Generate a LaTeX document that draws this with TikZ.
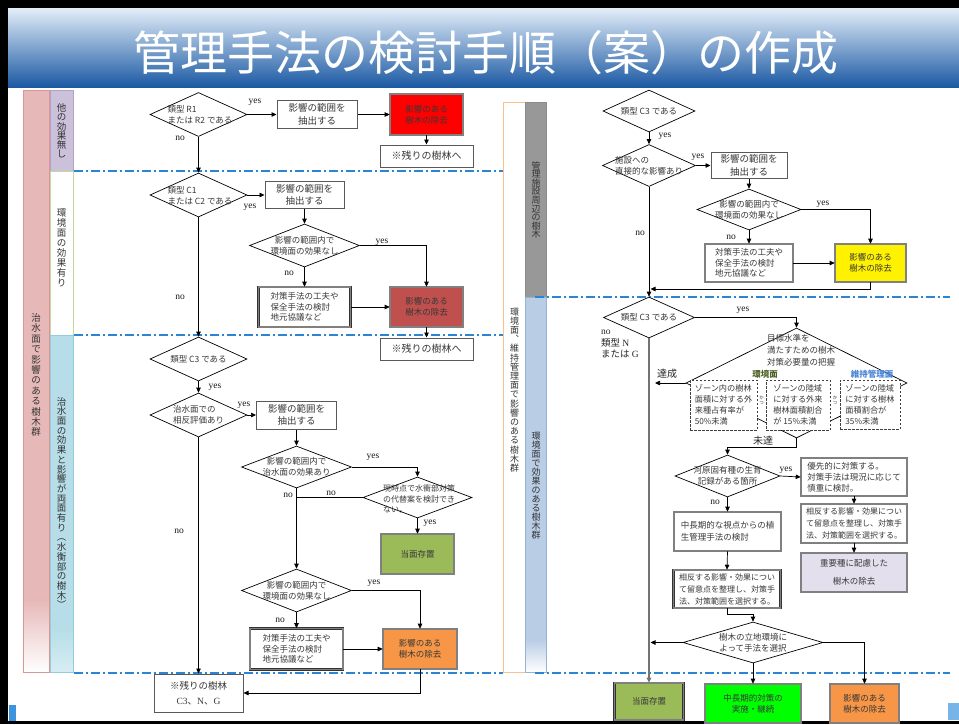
\documentclass[tikz,border=0pt]{standalone}
\usepackage{fontspec}
\setmainfont{Noto Sans CJK JP}
\newfontfamily\lat{Liberation Serif}
\usetikzlibrary{shapes.geometric,arrows.meta}
\definecolor{olivefill}{HTML}{9BBB59}
\definecolor{orangefill}{HTML}{F79646}
\definecolor{darkredfill}{HTML}{C0504D}
\definecolor{lavfill}{HTML}{E4DFEC}
\definecolor{pinkcol}{HTML}{E6B9B8}
\definecolor{pinkedge}{HTML}{D99694}
\definecolor{purplecol}{HTML}{CCC1DA}
\definecolor{purpleedge}{HTML}{B3A2C7}
\definecolor{bluecol}{HTML}{B7DEE8}
\definecolor{blueedge}{HTML}{93CDDD}
\definecolor{greenedge}{HTML}{C3D69B}
\definecolor{graycol}{HTML}{989898}
\definecolor{rbluecol}{HTML}{B9CDE5}
\definecolor{rblueedge}{HTML}{95B3D7}
\definecolor{orangeedge}{HTML}{FAC090}
\definecolor{zoneline}{HTML}{2A86D4}
\definecolor{titletop}{HTML}{E3EEF9}
\definecolor{titlemid}{HTML}{9DB9DA}
\definecolor{titlebot}{HTML}{1B59A3}
\definecolor{envgreen}{HTML}{4F6228}
\definecolor{mgmtblue}{HTML}{4A86D8}
\definecolor{logoblue}{HTML}{3D93DE}
\begin{document}
\begin{tikzpicture}[x=1pt,y=-1pt,
  every node/.style={text=black!78},
  dia/.style={diamond, draw=black, line width=0.7pt, fill=white, inner sep=0pt},
  dtx/.style={align=center, inner sep=0pt, font=\fontsize{8.5}{11}\selectfont},
  box/.style={rectangle, draw=black!65, line width=1pt, fill=white, inner sep=1pt, align=center, font=\fontsize{9.5}{12.5}\selectfont},
  dbox/.style={rectangle, draw=black!80, line width=0.6pt, double=black!50, double distance=1.5pt, inner sep=2pt, align=center, font=\fontsize{8.5}{11}\selectfont},
  dashbox/.style={rectangle, draw=black!75, line width=0.9pt, dash pattern=on 2.5pt off 1.5pt, fill=white, inner sep=2pt, align=left, font=\fontsize{8.2}{11}\selectfont},
  arr/.style={-{Triangle[length=5pt,width=4.5pt]}, line width=0.7pt, draw=black},
  ln/.style={line width=0.7pt, draw=black},
  lab/.style={text=black!90, inner sep=0pt, font=\lat\fontsize{9.5}{10}\selectfont},
  jlab/.style={text=black!85, inner sep=0pt, font=\fontsize{10}{11}\selectfont},
  zone/.style={draw=zoneline, line width=1.1pt, dash pattern=on 9pt off 3pt on 2pt off 3pt},
  vtl/.style={align=center, inner sep=0pt, text=black!80, font=\fontsize{9.5}{10}\selectfont},
  vtr/.style={align=center, inner sep=0pt, text=black!80, font=\fontsize{9}{9.2}\selectfont}
]
\useasboundingbox (0,0) rectangle (959,724);
% frame and title
\fill[white] (0,0) rectangle (959,724);
\shade[top color=titletop, middle color=titlemid, bottom color=titlebot] (8,8) rectangle (959,87);
\fill[black] (0,0) rectangle (959,8);
\fill[black] (0,0) rectangle (8,724);
\fill[black] (0,721) rectangle (959,724);
\fill[logoblue] (9,705) rectangle (16,721);
\fill[logoblue!70] (948,703) rectangle (959,720);
\node[text=white, inner sep=0pt, font=\fontsize{47}{47}\selectfont] (title) at (486,53) {管理手法の検討手順（案）の作成};

% zone lines
\draw[zone] (74,171) -- (503,171);
\draw[zone] (74,335) -- (503,335);
\draw[zone] (74,673) -- (503,673);

% left columns
\fill[pinkcol] (23,90) rectangle (49,600);
\shade[top color=pinkcol, bottom color=white] (23,600) rectangle (49,672);
\draw[pinkedge, line width=0.8pt] (23,90) rectangle (49,672);
\fill[purplecol] (50,90) rectangle (73,171);
\draw[purpleedge, line width=0.8pt] (50,90) rectangle (73,171);
\draw[greenedge, line width=0.8pt] (50,171) rectangle (73,335);
\fill[bluecol] (50,335) rectangle (73,630);
\shade[top color=bluecol, bottom color=bluecol!55] (50,630) rectangle (73,672);
\draw[blueedge, line width=0.8pt] (50,335) rectangle (73,672);
\node[vtl, font=\fontsize{9.5}{10.4}\selectfont] (cpink) at (36,375) {治\\水\\面\\で\\影\\響\\の\\あ\\る\\樹\\木\\群};
\node[vtl, font=\fontsize{9.5}{9.3}\selectfont] (cpurple) at (61.5,131) {他\\の\\効\\果\\無\\し};
\node[vtl, font=\fontsize{9.5}{10}\selectfont] (cwhite) at (61.5,248) {環\\境\\面\\の\\効\\果\\有\\り};
\node[vtl, font=\fontsize{9.5}{9.7}\selectfont] (cblue) at (61.5,503) {治\\水\\面\\の\\効\\果\\と\\影\\響\\が\\両\\面\\有\\り\\︵\\水\\衡\\部\\の\\樹\\木\\︶};

% right columns
\fill[white] (503,102) rectangle (525,672);
\draw[orangeedge, line width=1pt] (503,102) rectangle (525,672);
\fill[graycol] (525,102) rectangle (546,297);
\draw[black!45, line width=0.6pt] (525,102) rectangle (546,297);
\fill[rbluecol] (525,297) rectangle (546,640);
\shade[top color=rbluecol, bottom color=white] (525,640) rectangle (546,672);
\draw[rblueedge, line width=0.6pt] (525,297) rectangle (546,672);
\node[vtr] (corange) at (514.5,390) {環\\境\\面\\︑\\維\\持\\管\\理\\面\\で\\影\\響\\の\\あ\\る\\樹\\木\\群};
\node[vtr, font=\fontsize{9}{8.6}\selectfont] (cgray) at (536,200) {管\\理\\施\\設\\周\\辺\\の\\樹\\木};
\node[vtr, font=\fontsize{9}{9}\selectfont] (crblue) at (536,486) {環\\境\\面\\で\\効\\果\\の\\あ\\る\\樹\\木\\群};
\draw[zone] (535,297) -- (950,297);
\draw[zone] (535,673) -- (950,673);

% ===== left flowchart =====
\node[dia, minimum width=97pt, minimum height=44pt] (d1) at (198.5,114.5) {};
\node[dtx, align=left] (d1t) at (200,115) {類型 R1\\または R2 である};
\node[box, minimum width=80pt, minimum height=28pt] (b1) at (317,114.5) {影響の範囲を\\抽出する};
\node[dbox, fill=red, minimum width=73pt, minimum height=41pt] (r1) at (426.5,114.5) {影響のある\\樹木の除去};
\node[box, minimum width=93pt, minimum height=22pt, font=\fontsize{10}{12}\selectfont] (k1) at (426.5,156) {※残りの樹林へ};

\node[dia, minimum width=97pt, minimum height=44pt] (d2) at (198.5,195) {};
\node[dtx, align=left] (d2t) at (200,195.5) {類型 C1\\または C2 である};
\node[box, minimum width=79pt, minimum height=27pt] (b2) at (304.5,195) {影響の範囲を\\抽出する};
\node[dia, minimum width=110pt, minimum height=43pt] (d3) at (304.5,245.5) {};
\node[dtx] (d3t) at (d3) {影響の範囲内で\\環境面の効果なし};
\node[dbox, fill=white, align=left, minimum width=92pt, minimum height=40pt, font=\fontsize{8.5}{10.5}\selectfont] (b3) at (304.5,307) {対策手法の工夫や\\保全手法の検討\\地元協議など};
\node[dbox, fill=darkredfill, minimum width=73pt, minimum height=40pt] (r2) at (426.5,307) {影響のある\\樹木の除去};
\node[box, minimum width=93pt, minimum height=22pt, font=\fontsize{10}{12}\selectfont] (k2) at (426.5,349) {※残りの樹林へ};

\node[dia, minimum width=97pt, minimum height=44pt] (d4) at (198.5,359) {};
\node[dtx] (d4t) at (d4) {類型 C3 である};
\node[dia, minimum width=97pt, minimum height=44pt] (d5) at (198.5,415) {};
\node[dtx, align=left] (d5t) at (d5) {治水面での\\相反評価あり};
\node[box, minimum width=80pt, minimum height=28pt] (b4) at (296.5,415) {影響の範囲を\\抽出する};
\node[dia, minimum width=110pt, minimum height=42pt] (d6) at (296.5,467) {};
\node[dtx] (d6t) at (d6) {影響の範囲内で\\治水面の効果あり};
\node[dia, minimum width=109pt, minimum height=41pt] (d7) at (417.5,497.5) {};
\node[dtx, align=left, font=\fontsize{8}{10.5}\selectfont] (d7t) at (419,499) {現時点で水衝部対策\\の代替案を検討でき\\ない。};
\node[dbox, fill=olivefill, minimum width=73pt, minimum height=40pt] (g0) at (417.5,554) {当面存置};
\node[dia, minimum width=110pt, minimum height=43pt] (d8) at (296.5,590.5) {};
\node[dtx] (d8t) at (d8) {影響の範囲内で\\環境面の効果なし};
\node[dbox, fill=white, align=left, minimum width=93pt, minimum height=41pt, font=\fontsize{8.5}{10.5}\selectfont] (b5) at (296.5,649) {対策手法の工夫や\\保全手法の検討\\地元協議など};
\node[dbox, fill=orangefill, minimum width=74pt, minimum height=40pt] (r3) at (420,649) {影響のある\\樹木の除去};
\node[box, minimum width=89pt, minimum height=38pt, font=\fontsize{9.5}{14.5}\selectfont] (k3) at (198.5,693) {※残りの樹林\\{\lat C3}、{\lat N}、{\lat G}};

\coordinate (j2) at (296.5,497.5);

\draw[arr] (d1.east) -- (b1.west);
\draw[arr] (b1.east) -- (r1.west);
\draw[arr] (r1.south) -- (k1.north);
\draw[arr] (d1.south) -- (d2.north);
\draw[arr] (d2.east) -- (b2.west);
\draw[arr] (b2.south) -- (d3.north);
\draw[arr] (d3.east) -| (r2.north);
\draw[arr] (d3.south) -- (b3.north);
\draw[arr] (b3.east) -- (r2.west);
\draw[arr] (r2.south) -- (k2.north);
\draw[arr] (d2.south) -- (d4.north);
\draw[arr] (d4.south) -- (d5.north);
\draw[arr] (d5.east) -- (b4.west);
\draw[arr] (b4.south) -- (d6.north);
\draw[arr] (d6.east) -| (d7.north);
\draw[ln] (d7.west) -- (j2);
\draw[arr] (d7.south) -- (g0.north);
\draw[arr] (d6.south) -- (d8.north);
\draw[arr] (d8.east) -| (r3.north);
\draw[arr] (d8.south) -- (b5.north);
\draw[arr] (b5.east) -- (r3.west);
\draw[arr] (r3.south) |- (k3.east);
\draw[arr] (d5.south) -- (k3.north);

\node[lab] (lyes1) at (255,102) {yes};
\node[lab] (lno1) at (180,138) {no};
\node[lab] (lyes2) at (250,207) {yes};
\node[lab] (lno2) at (180,297) {no};
\node[lab] (lyes3) at (382,242) {yes};
\node[lab] (lno3) at (289,273) {no};
\node[lab] (lyes4) at (215,387) {yes};
\node[lab] (lyes5) at (244,405) {yes};
\node[lab] (lno4) at (179,531) {no};
\node[lab] (lyes6) at (373,457) {yes};
\node[lab] (lno5) at (288,495) {no};
\node[lab] (lno6) at (331,493) {no};
\node[lab] (lyes7) at (430,523) {yes};
\node[lab] (lyes8) at (374,583) {yes};
\node[lab] (lno7) at (280,620) {no};

% ===== right flowchart =====
\node[dia, minimum width=92pt, minimum height=42pt] (e1) at (649,111) {};
\node[dtx] (e1t) at (e1) {類型 C3 である};
\node[dia, minimum width=93pt, minimum height=42pt] (e2) at (649,165.5) {};
\node[dtx, align=left] (e2t) at (e2) {施設への\\直接的な影響あり};
\node[box, minimum width=76pt, minimum height=26pt] (c1) at (749,165.5) {影響の範囲を\\抽出する};
\node[dia, minimum width=104pt, minimum height=41pt] (e3) at (749,209.5) {};
\node[dtx] (e3t) at (e3) {影響の範囲内で\\環境面の効果なし};
\node[dbox, fill=white, align=left, minimum width=88pt, minimum height=38pt, font=\fontsize{8.5}{10.5}\selectfont] (c2) at (749,263) {対策手法の工夫や\\保全手法の検討\\地元協議など};
\node[dbox, fill=yellow, minimum width=71pt, minimum height=38pt] (y1) at (870.5,263) {影響のある\\樹木の除去};
\node[dia, minimum width=91pt, minimum height=41pt] (e4) at (649,317.5) {};
\node[dtx] (e4t) at (e4) {類型 C3 である};
\node[dia, minimum width=221pt, minimum height=110pt] (e5) at (796.5,383) {};
\node[dtx, align=left, font=\fontsize{8.5}{12}\selectfont] (e5t) at (801,350) {目標水準を\\満たすための樹木\\対策必要量の把握};
\node[dashbox, minimum width=67pt, minimum height=50pt] (db1) at (723.5,405) {ゾーン内の樹林\\面積に対する外\\来種占有率が\\50\%未満};
\node[dashbox, minimum width=64pt, minimum height=50pt] (db2) at (798,405) {ゾーンの陸域\\に対する外来\\樹林面積割合\\が 15\%未満};
\node[dashbox, minimum width=60pt, minimum height=49pt] (db3) at (870,404.5) {ゾーンの陸域\\に対する樹林\\面積割合が\\35\%未満};
\node[align=center, inner sep=0pt, font=\fontsize{4.5}{5}\selectfont] (katsu1) at (761.5,400) {か\\つ};
\node[align=center, inner sep=0pt, font=\fontsize{4.5}{5}\selectfont] (katsu2) at (835,400) {か\\つ};
\node[inner sep=0pt, text=envgreen, font=\bfseries\fontsize{8.5}{10}\selectfont] (envl) at (765,374) {環境面};
\node[inner sep=0pt, text=mgmtblue, font=\bfseries\fontsize{8.5}{10}\selectfont] (mgl) at (872,374) {維持管理面};
\node[dia, minimum width=105pt, minimum height=42pt] (e6) at (727.5,476) {};
\node[dtx] (e6t) at (e6) {河原固有種の生育\\記録がある箇所};
\node[dbox, fill=white, align=left, minimum width=106pt, minimum height=38pt, font=\fontsize{8.5}{10.8}\selectfont] (f1) at (854,477) {優先的に対策する。\\対策手法は現況に応じて\\慎重に検討。};
\node[dbox, fill=white, align=left, minimum width=106pt, minimum height=39pt, font=\fontsize{8}{12}\selectfont] (f2) at (854,523.5) {相反する影響・効果につい\\て留意点を整理し、対策手\\法、対策範囲を選択する。};
\node[dbox, fill=lavfill, minimum width=106pt, minimum height=39pt, font=\fontsize{8.5}{18}\selectfont] (f3) at (854,572.5) {重要種に配慮した\\樹木の除去};
\node[dbox, fill=white, align=left, minimum width=107pt, minimum height=39pt, font=\fontsize{8.5}{12}\selectfont] (g1) at (727.5,531.5) {中長期的な視点からの植\\生管理手法の検討};
\node[dbox, fill=white, align=left, minimum width=107pt, minimum height=38pt, font=\fontsize{8}{12}\selectfont] (g2) at (727,589) {相反する影響・効果につい\\て留意点を整理し、対策手\\法、対策範囲を選択する。};
\node[dia, minimum width=140pt, minimum height=41pt] (e7) at (753,642.5) {};
\node[dtx] (e7t) at (e7) {樹木の立地環境に\\よって手法を選択};
\node[dbox, fill=olivefill, minimum width=69pt, minimum height=37pt] (h1) at (649,701.5) {当面存置};
\node[dbox, fill=green, minimum width=96pt, minimum height=39pt] (h2) at (753,703.5) {中長期的対策の\\実施・継続};
\node[dbox, fill=orangefill, minimum width=69pt, minimum height=39pt] (h3) at (864.5,703.5) {影響のある\\樹木の除去};

\coordinate (j1) at (650.5,289);
\coordinate (j3) at (650.5,642.5);
\coordinate (j4) at (655,383);

\draw[arr] (e1.south) -- (e2.north);
\draw[arr] (e2.east) -- (c1.west);
\draw[arr] (c1.south) -- (e3.north);
\draw[arr] (e3.east) -| (y1.north);
\draw[arr] (e3.south) -- (c2.north);
\draw[arr] (c2.east) -- (y1.west);
\draw[arr] (y1.south) |- (j1);
\draw[arr] (e2.south) -- (e4.north);
\draw[arr] (e4.east) -| (e5.north);
\draw[arr] (e5.west) -- (j4);
\draw[arr] (e5.south) -- ++(0,9) -| (e6.north);
\draw[arr] (e6.east) -- (f1.west);
\draw[arr] (f1.south) -- (f2.north);
\draw[arr] (f2.south) -- (f3.north);
\draw[arr] (e6.south) -- (g1.north);
\draw[arr] (g1.south) -- (g2.north);
\draw[arr] (g2.south) -- ++(0,6) -| (e7.north);
\draw[arr] (e7.west) -- (j3);
\draw[arr] (e7.south) -- (h2.north);
\draw[arr] (e7.east) -| (h3.north);
\draw[-{Triangle[length=5pt,width=4.5pt]}, line width=1.2pt, draw=black!55] (e4.south) -- (h1.north);

\node[lab] (ryes1) at (665,136) {yes};
\node[lab] (ryes2) at (698,157) {yes};
\node[lab] (rno1) at (640,233) {no};
\node[lab] (ryes3) at (823,204) {yes};
\node[lab] (rno2) at (731,237) {no};
\node[lab] (ryes4) at (743,310) {yes};
\node[lab] (ryes5) at (786,470) {yes};
\node[lab] (rno3) at (715,502) {no};
\node[anchor=north west, align=left, inner sep=0pt, text=black!85, font=\fontsize{9.5}{11.5}\selectfont] (rno4) at (601,330) {{\lat no}\\類型 {\lat N}\\または {\lat G}};
\node[jlab] (tassei) at (667,374) {達成};
\node[jlab] (mitatsu) at (763,441) {未達};
\end{tikzpicture}
\end{document}
